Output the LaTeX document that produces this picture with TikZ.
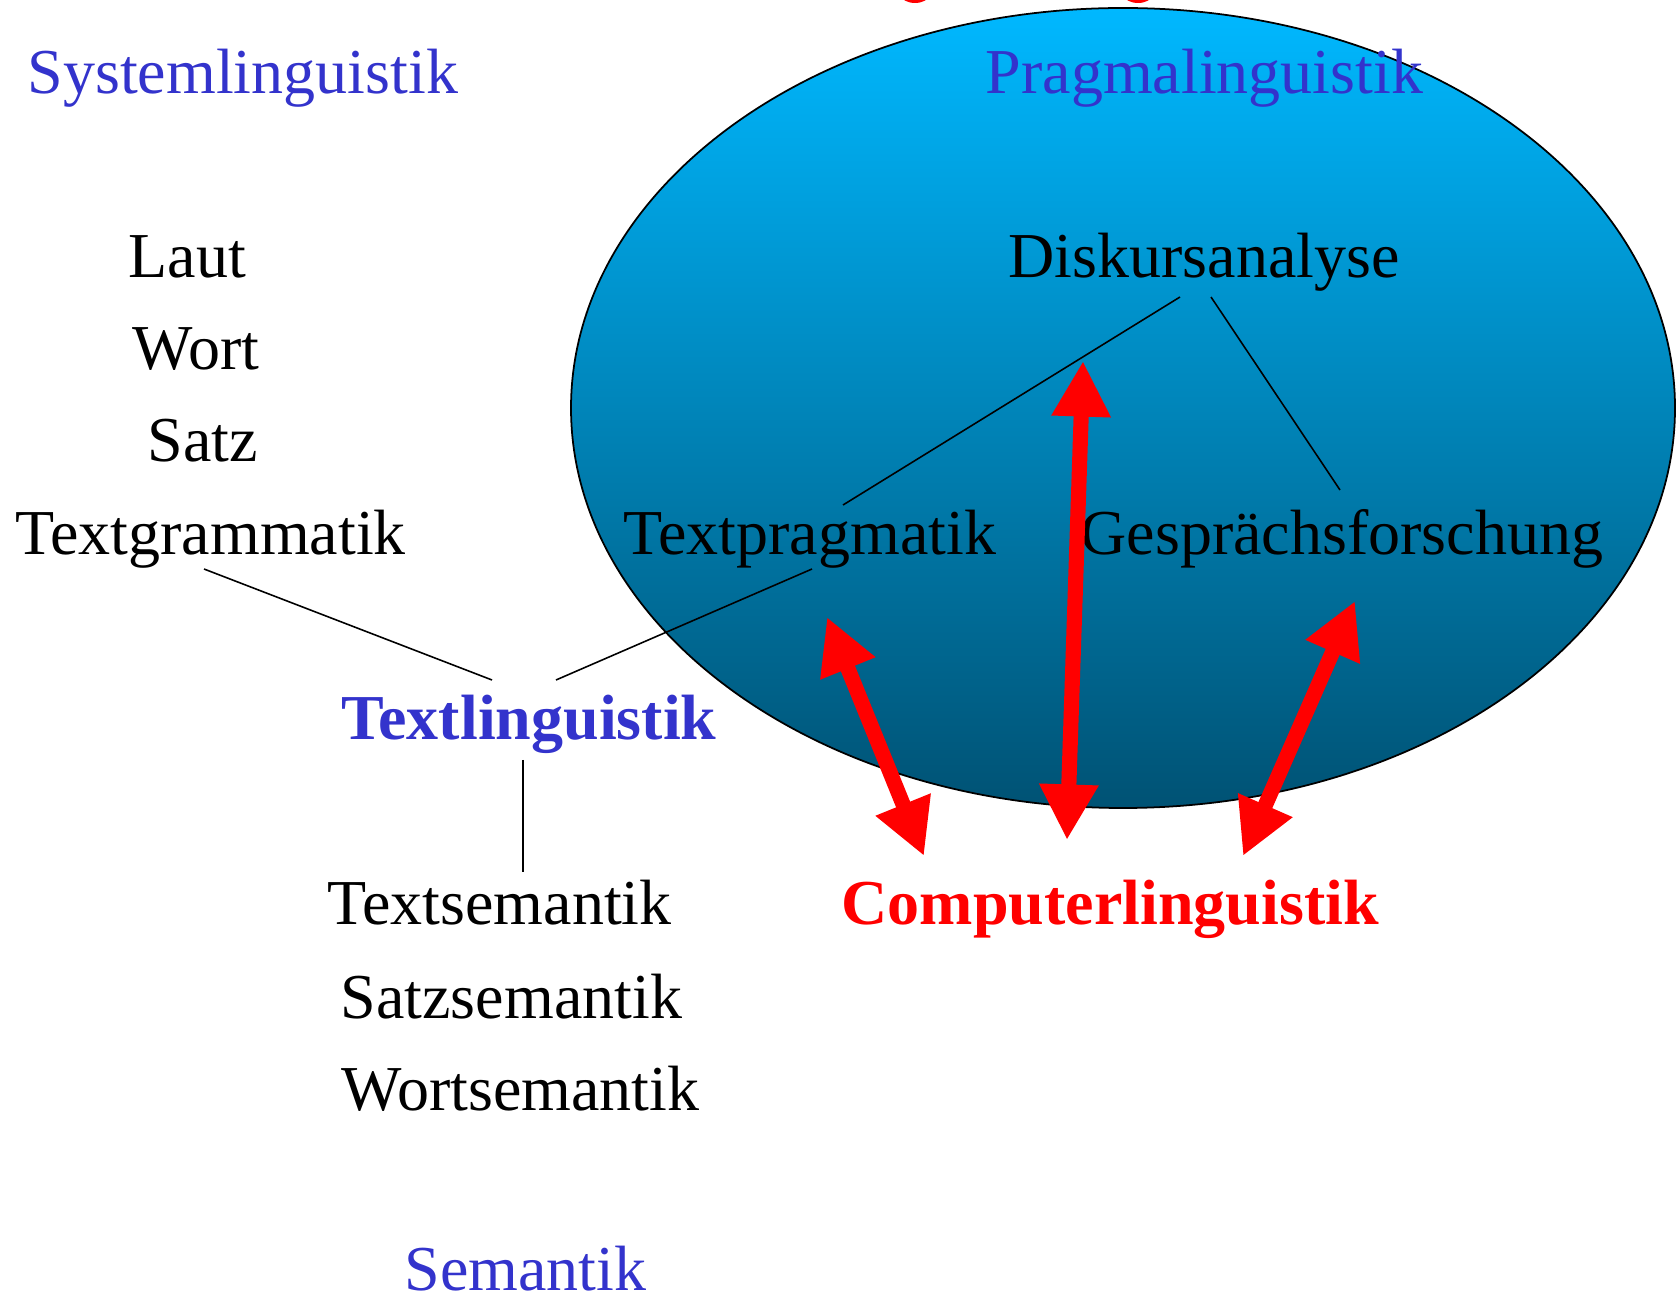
\documentclass[tikz,border=0pt]{standalone}
\usepackage{fontspec}
\setmainfont{Liberation Serif}
\usetikzlibrary{arrows.meta}
\definecolor{labelblue}{RGB}{51,51,204}
\definecolor{skytop}{RGB}{0,184,255}
\definecolor{skymid}{RGB}{0,150,204}
\definecolor{skybot}{RGB}{0,82,116}
\tikzset{
  term/.style={anchor=base west, inner sep=0pt, font=\fontsize{18.2pt}{20pt}\selectfont},
  field/.style={anchor=base west, inner sep=0pt, text=labelblue, font=\fontsize{18.2pt}{20pt}\selectfont},
  hub/.style={anchor=base west, inner sep=0pt, text=labelblue, font=\fontsize{18.2pt}{20pt}\selectfont\bfseries},
  comp/.style={anchor=base west, inner sep=0pt, text=red, font=\fontsize{18.2pt}{20pt}\selectfont\bfseries},
  link/.style={draw=black, line width=0.45pt},
  bigarrow/.style={draw=red, line width=4.3pt,
    {Triangle[length=15.8pt,width=15.8pt]}-{Triangle[length=15.8pt,width=15.8pt]}}
}
\begin{document}
\begin{tikzpicture}[x=0.01cm,y=-0.01cm]
\useasboundingbox (0,0) rectangle (1676,1298);

% pragmatics field
\path[top color=skytop, middle color=skymid, bottom color=skybot, draw=black, line width=0.5pt]
  (1123,408) ellipse [x radius=552, y radius=400];

% descender tips of the red heading above the page
\fill[red] (915,-5) ellipse [x radius=14, y radius=8];
\fill[red] (1138,-5) ellipse [x radius=14, y radius=8];

% headings
\node[field] (sys) at (27,94) {Systemlinguistik};
\node[field] (prag) at (985,94) {Pragmalinguistik};

% system levels
\node[term] (laut) at (128,278) {Laut};
\node[term] (wort) at (132,370) {Wort};
\node[term] (satz) at (147,462) {Satz};
\node[term] (tgram) at (15,555) {Textgrammatik};

% pragmatic branches
\node[term] (disk) at (1008,278) {Diskursanalyse};
\node[term] (tprag) at (623,555) {Textpragmatik};
\node[term] (gespr) at (1080,555) {Gesprächsforschung};

% text linguistics and semantics
\node[hub] (tling) at (341,740) {Textlinguistik};
\node[term] (tsem) at (327,925) {Textsemantik};
\node[term] (ssem) at (340,1018) {Satzsemantik};
\node[term] (wsem) at (341,1110) {Wortsemantik};
\node[field] (sem) at (404,1290) {Semantik};

% computational linguistics
\node[comp] (comp) at (841,925) {Computerlinguistik};

% connector end points
\coordinate (tgram-b) at (204,569);
\coordinate (tling-tl) at (492,680);
\coordinate (tprag-b) at (812,569);
\coordinate (tling-tr) at (556,680);
\coordinate (disk-bl) at (1180,297);
\coordinate (tprag-t) at (843,505);
\coordinate (disk-br) at (1211,297);
\coordinate (gespr-t) at (1340,490);
\coordinate (tling-b) at (523,760);
\coordinate (tsem-t) at (523,872);

\draw[link] (tgram-b) -- (tling-tl);
\draw[link] (tprag-b) -- (tling-tr);
\draw[link] (disk-bl) -- (tprag-t);
\draw[link] (disk-br) -- (gespr-t);
\draw[link] (tling-b) -- (tsem-t);

% double arrows towards computational linguistics
\coordinate (a1t) at (827,617);
\coordinate (a1b) at (924,856);
\coordinate (a2t) at (1083,361);
\coordinate (a2b) at (1067,840);
\coordinate (a3t) at (1355,601);
\coordinate (a3b) at (1243,856);
\draw[bigarrow] (a1t) -- (a1b);
\draw[bigarrow] (a2t) -- (a2b);
\draw[bigarrow] (a3t) -- (a3b);
\end{tikzpicture}
\end{document}
